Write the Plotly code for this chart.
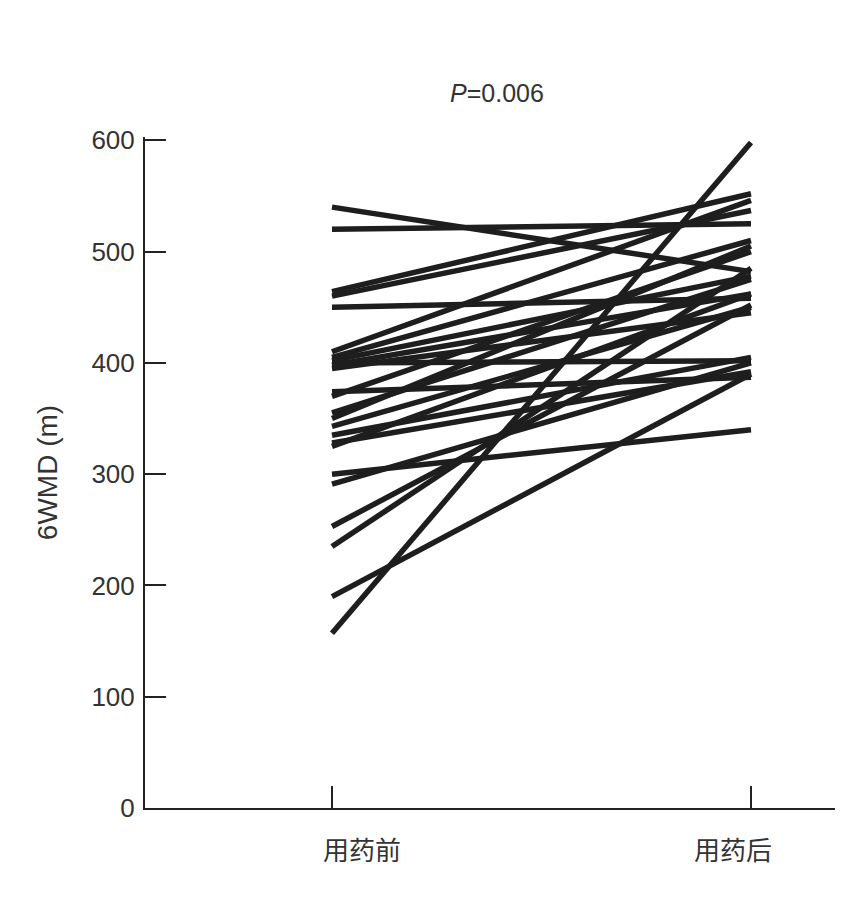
import plotly.graph_objects as go

categories = ["用药前", "用药后"]
before = [540, 520, 464, 460, 450, 410, 405, 402, 400, 398, 395, 374, 370, 355, 350,
          343, 335, 328, 325, 300, 291, 253, 235, 190, 157]
after = [482, 525, 552, 537, 458, 546, 510, 478, 402, 462, 445, 387, 500, 475, 505,
         450, 405, 392, 462, 340, 400, 452, 485, 390, 598]
y_ticks = [0, 100, 200, 300, 400, 500, 600]
title_text = "<i>P</i>=0.006"
y_title = "6WMD (m)"

# page has an 8px body margin; positions below are in figure coords
L, R, T, B = 137, 33, 129, 104
W, H = 860, 904
plot_w = W - L - R
plot_h = H - T - B

fig = go.Figure()
for b, a in zip(before, after):
    fig.add_trace(go.Scatter(
        x=[0, 1], y=[b, a], mode="lines",
        line=dict(color="#1e1e1e", width=5.5),
        showlegend=False, hoverinfo="skip"))

font_main = "Liberation Sans, Noto Sans CJK SC, sans-serif"
cjk = "Noto Sans CJK SC, sans-serif"

annotations = [dict(
    text=title_text, x=(489 - L) / plot_w, y=(H - B - 85) / plot_h,
    xref="paper", yref="paper", xanchor="center", yanchor="middle",
    showarrow=False, font=dict(size=25, color="#333333"))]
label_x = [(362 - 332) / 419, (733 - 332) / 419]
for lx, lab in zip(label_x, categories):
    annotations.append(dict(
        text=lab, x=lx, y=-40 / plot_h, xref="x", yref="paper",
        xanchor="center", yanchor="middle", showarrow=False,
        font=dict(family=cjk, size=26, color="#333333")))

fig.update_layout(
    width=W, height=H,
    paper_bgcolor="white", plot_bgcolor="white",
    margin=dict(l=L, r=R, t=T, b=B),
    font=dict(family=font_main, color="#333333", size=26),
    annotations=annotations,
)

fig.update_xaxes(
    range=[(145 - 332) / 419, (835 - 332) / 419],
    tickvals=[0, 1], ticktext=["", ""],
    ticks="inside", ticklen=22, tickwidth=2, tickcolor="#222",
    showline=True, linecolor="#222", linewidth=2,
    showgrid=False, zeroline=False,
)
fig.update_yaxes(
    range=[0, 603],
    tickvals=y_ticks,
    ticks="inside", ticklen=21, tickwidth=2, tickcolor="#222",
    showline=True, linecolor="#222", linewidth=2,
    showgrid=False, zeroline=False,
    tickfont=dict(size=26, color="#333"),
    ticklabelstandoff=3,
    title=dict(text=y_title, font=dict(size=28, color="#333"), standoff=26),
)

fig.write_html("out.html")
